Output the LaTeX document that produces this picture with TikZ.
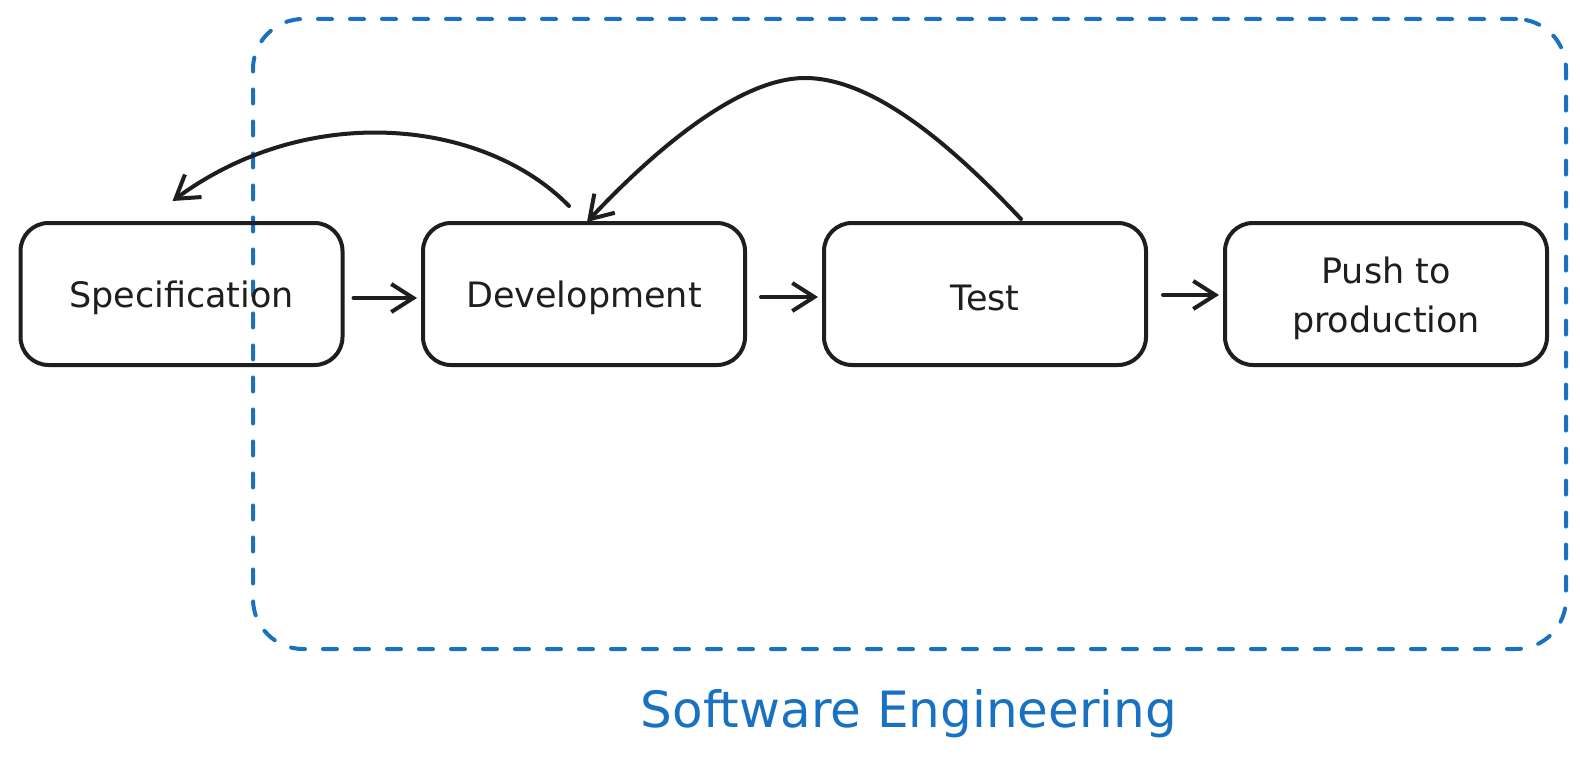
\documentclass[tikz,border=0pt]{standalone}
\usepackage{fontspec}
\setmainfont{DejaVu Sans}
\usetikzlibrary{arrows.meta,calc}
\definecolor{seblue}{HTML}{1971C2}
\definecolor{ink}{HTML}{1E1E1E}
\newcommand{\lowr}[1]{\raisebox{-4pt}[\height][\depth]{#1}}
\begin{document}
\begin{tikzpicture}[x=1pt,y=-1pt,
  box/.style={draw=ink, line width=4pt, rounded corners=28pt, minimum width=322pt,
    minimum height=142pt, inner sep=0pt, align=center,
    font=\fontsize{35}{49}\selectfont, text=ink},
  flow/.style={draw=ink, line width=4pt, line cap=round, line join=round,
    -{Straight Barb[length=22pt,width=28pt]}},
  frame/.style={draw=seblue, line width=4pt, dash pattern=on 14pt off 18pt,
    line cap=round, rounded corners=50pt, minimum width=1313pt, minimum height=630pt,
    inner sep=0pt}]
\fill[white] (0,0) rectangle (1584,770);
\useasboundingbox (0,0) rectangle (1584,770);

\node[frame] (group) at (909.5,334) {};
\node[text=seblue, font=\fontsize{50}{60}\selectfont] (grouplabel) at (909,714) {Software Engineering};

\node[box] (spec) at (181.5,294) {\lowr{Specification}};
\node[box] (dev) at (584,294) {\lowr{Development}};
\node[box] (test) at (985,294) {\lowr{Test}};
\node[box] (push) at (1386,294) {\lowr{Push to}\\\lowr{production}};

\draw[flow] ($(spec.east)+(9,4)$) -- ($(dev.west)+(-4,4)$);
\draw[flow] ($(dev.east)+(14,3)$) -- ($(test.west)+(-4,3)$);
\draw[flow] ($(test.east)+(15,1)$) -- ($(push.west)+(-4,1)$);

\coordinate (peak) at (805,78);
\draw[flow] ($(test.north)+(36,-2)$) .. controls (965,160) and (880,78) .. (peak)
  .. controls (735,78) and (645,160) .. ($(dev.north)+(3,1)$);
\draw[flow] ($(dev.north)+(-15,-15)$) .. controls (485,120) and (310,100) .. ($(spec.north)+(-9,-20)$);
\end{tikzpicture}
\end{document}
